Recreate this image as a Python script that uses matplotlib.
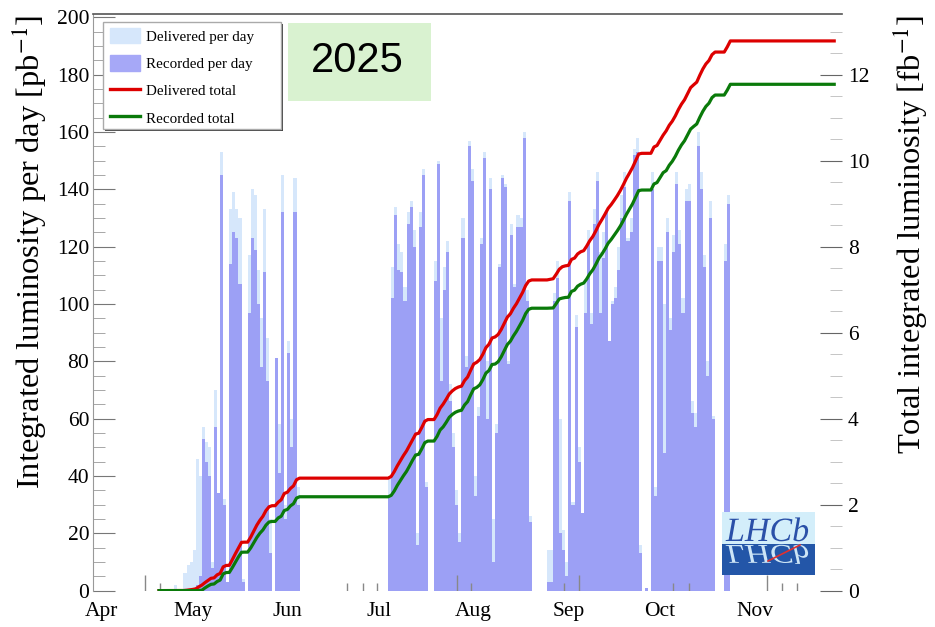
import matplotlib.pyplot as plt
import numpy as np
from matplotlib.patches import Rectangle, PathPatch, Patch
from matplotlib.lines import Line2D
from matplotlib.textpath import TextPath
from matplotlib.font_manager import FontProperties
from matplotlib.transforms import Affine2D, IdentityTransform

plt.rcParams['font.family'] = ['Liberation Serif', 'DejaVu Serif']
plt.rcParams['mathtext.fontset'] = 'stix'

# days are counted from 1 April 2025 (= day 0)
first_day = 19

# luminosity per day [pb^-1], one value per day from first_day to day 239
delivered = ([0, 0, 0, 0, 0, 2, 0, 0, 6, 9, 10, 14, 46, 40]
             + [57, 52, 50, 10, 70, 34, 153, 32, 3, 133,
                139, 133, 130, 4, 0, 117, 140, 138, 112, 95,
                133, 88, 25, 0, 81, 58, 145, 30, 87, 60,
                144, 36]
             + [0] * 29
             + [40, 113, 134, 121, 118, 106, 132, 136, 126, 20,
                132, 147, 38, 0, 0, 115, 150, 95, 113, 122,
                72, 55, 35, 20, 130, 82, 157, 147, 40, 64,
                123, 153, 80, 144, 25, 58, 114, 145, 142, 80,
                128, 107, 131, 130, 160, 105, 26]
             + [0] * 5
             + [14, 14, 104, 115, 60, 21, 10, 139, 31, 96,
                50, 27, 108, 126, 97, 133, 146, 118, 125, 132,
                87, 101, 106, 120, 138, 146, 123, 130, 154, 158,
                16]
             + [0, 1, 0]
             + [146, 36, 120, 120, 100, 130, 95, 124, 146, 126,
                102, 140, 142, 66, 62, 160, 146, 117, 80, 136,
                61, 0, 0, 0, 121, 138]
             + [0] * 34)
recorded = ([0, 0, 0, 0, 0, 0, 0, 0, 0, 0, 0, 1, 2, 5]
            + [53, 45, 40, 8, 57, 34, 145, 30, 3, 114,
               125, 123, 107, 3, 0, 97, 123, 119, 100, 78,
               111, 73, 13, 0, 81, 41, 132, 25, 83, 50,
               132, 30]
            + [0] * 29
            + [33, 102, 131, 112, 111, 101, 128, 134, 120, 16,
               127, 145, 36, 0, 0, 108, 149, 73, 105, 118,
               66, 50, 30, 17, 123, 78, 155, 143, 33, 61,
               121, 151, 60, 140, 10, 55, 113, 144, 141, 79,
               124, 106, 127, 127, 158, 101, 24]
            + [0] * 5
            + [3, 3, 101, 109, 20, 14, 5, 136, 30, 92,
               45, 27, 97, 121, 93, 128, 143, 97, 116, 132,
               87, 100, 102, 112, 130, 141, 122, 125, 152, 153,
               13]
            + [0, 1, 0]
            + [140, 33, 115, 115, 48, 125, 91, 118, 142, 121,
               97, 136, 136, 62, 57, 155, 140, 113, 75, 130,
               60, 0, 0, 0, 115, 135]
            + [0] * 34)

months = ["Apr", "May", "Jun", "Jul", "Aug", "Sep", "Oct", "Nov"]
month_start = [0, 30, 61, 91, 122, 153, 183, 214]

# small marks standing on the time axis
marks_long = [14.4, 116.5, 156.5, 218]
marks_short = [19.3, 80.5, 85.8, 90.3, 121.1, 151.6, 187.3, 192.5, 222.9, 227.8]

W, H = 935, 627
fig = plt.figure(figsize=(W / 100, H / 100), dpi=100)
ax = fig.add_axes([93.3 / W, 1 - 590.6 / H, (842 - 93.3) / W, (590.6 - 14) / H])

days = first_day + np.arange(len(delivered))
ax.bar(days, delivered, width=1, align="edge", color="#d6e7fb", linewidth=0)
ax.bar(days, recorded, width=1, align="edge", color="#9ca0f5", linewidth=0)

ymax = 201.2
ax.set_xlim(-2.52, 242.55)
ax.set_ylim(0, ymax)

for s in ["bottom", "right"]:
    ax.spines[s].set_visible(False)
ax.spines["left"].set_color("#999999")
ax.spines["top"].set_color("#555555")
ax.spines["top"].set_linewidth(1.2)

ax.set_yticks(np.arange(0, 201, 20))
ax.set_yticks(np.arange(0, 201, 5), minor=True)
ax.tick_params(axis="y", which="major", direction="in", length=16, color="#777777",
               labelsize=15.5, pad=3)
ax.tick_params(axis="y", which="minor", direction="in", length=8.5, color="#999999")

ax.set_xticks(month_start)
ax.set_xticklabels(months)
ax.tick_params(axis="x", which="major", length=0, labelsize=15.5, pad=8)
xt = ax.get_xaxis_transform()
ax.vlines(marks_long, 0, 16 / 576.6, transform=xt, color="#888888", lw=1, zorder=3)
ax.vlines(marks_short, 0, 8 / 576.6, transform=xt, color="#888888", lw=1, zorder=3)

# integrated totals from the daily values
edges = first_day + np.arange(len(delivered) + 1)
del_total = np.concatenate([[0], np.cumsum(delivered)]) / 1000
rec_total = np.concatenate([[0], np.cumsum(recorded)]) / 1000

ax2 = ax.twinx()
ax2.set_ylim(0, ymax / 15)
ax2.plot(edges, del_total, color="#dd0000", lw=2.3)
ax2.plot(edges, rec_total, color="#0a7a0a", lw=2.3)
for s in ax2.spines.values():
    s.set_visible(False)
ax2.set_yticks(np.arange(0, 13, 2))
ax2.set_yticks(np.arange(0, 13.3, 0.5), minor=True)
ax2.tick_params(axis="y", which="major", direction="in", length=16, color="#666666",
                labelsize=15.5, pad=4.3)
ax2.tick_params(axis="y", which="minor", direction="in", length=8.5, color="#bbbbbb")

fig.text(30 / W, 1 - 252 / H, "Integrated luminosity per day [pb$^{-1}$]",
         rotation=90, ha="center", va="center", fontsize=23.4)
fig.text(911 / W, 1 - 234 / H, "Total integrated luminosity [fb$^{-1}$]",
         rotation=90, ha="center", va="center", fontsize=23.4)

# legend with a ROOT-like shadowed frame
fig.add_artist(Rectangle((104.7, H - 131.3), 178.3, 107.6, transform=IdentityTransform(),
                         facecolor="#444444", edgecolor="none", zorder=1))
fig.add_artist(Rectangle((102.7, H - 129.3), 178.3, 107.6, transform=IdentityTransform(),
                         facecolor="white", edgecolor="#aaaaaa", lw=1, zorder=1.1))
handles = [Patch(color="#d6e7fb"), Patch(color="#a6a8f7"),
           Line2D([], [], color="#dd0000", lw=2.4), Line2D([], [], color="#0a7a0a", lw=2.4)]
labels = ["Delivered per day", "Recorded per day", "Delivered total", "Recorded total"]
fig.legend(handles, labels, loc="upper left", bbox_to_anchor=(102.7 / W, 1 - 21 / H),
           fontsize=10.8, frameon=False, borderpad=0.46, labelspacing=0.77,
           handlelength=2.0, handleheight=1.2, handletextpad=0.45, borderaxespad=0)

# year box
fig.add_artist(Rectangle((288.3 / W, 1 - 100.7 / H), 142.4 / W, 78 / H, transform=fig.transFigure,
                         facecolor="#d9f2d0", edgecolor="none"))
fig.text(357.5 / W, 1 - 61 / H, "2025", fontsize=30, family="Liberation Sans",
         ha="center", va="center")

# LHCb logo (pixel coordinates from the bottom-left corner)
fig.add_artist(Rectangle((722, H - 543.5), 93, 31.5, transform=IdentityTransform(),
                         facecolor="#d3eefa", edgecolor="none"))
fig.add_artist(Rectangle((722, H - 575), 93, 31.5, transform=IdentityTransform(),
                         facecolor="#2356a8", edgecolor="none"))
tp = TextPath((0, 0), "LHCb", size=34, prop=FontProperties(family="Liberation Serif", style="italic"))
fig.add_artist(PathPatch(tp, transform=Affine2D().translate(726, H - 541) + IdentityTransform(),
                         facecolor="#2a50a8", edgecolor="none"))
fig.add_artist(PathPatch(tp, transform=Affine2D().scale(1, -0.8).translate(726, H - 545) + IdentityTransform(),
                         facecolor="#cde5f6", edgecolor="none"))
fig.add_artist(Line2D([768, 800], [H - 561, H - 545], transform=IdentityTransform(),
                      color="#e03030", lw=1.2))

fig.savefig("out.png", dpi=100)
